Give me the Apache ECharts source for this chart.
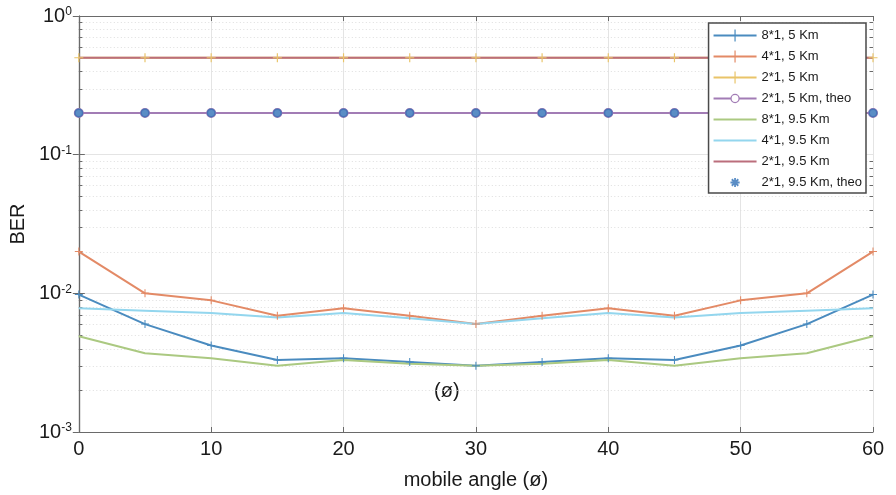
<!DOCTYPE html>
<html>
<head>
<meta charset="utf-8">
<script src="https://cdn.jsdelivr.net/npm/echarts@6/dist/echarts.min.js"></script>
<style>
html,body{margin:0;padding:0;background:#fff;}
#chart{width:896px;height:495px;}
</style>
</head>
<body>
<div id="chart"></div>
<script>
// ---- data ----
const angles = [0, 5, 10, 15, 20, 25, 30, 35, 40, 45, 50, 55, 60];
const seriesNames = ['8*1, 5 Km', '4*1, 5 Km', '2*1, 5 Km', '2*1, 5 Km, theo',
                     '8*1, 9.5 Km', '4*1, 9.5 Km', '2*1, 9.5 Km', '2*1, 9.5 Km, theo'];
const ber8x1_5 = [0.0098, 0.0060, 0.0042, 0.0033, 0.0034, 0.0032, 0.0030, 0.0032, 0.0034, 0.0033, 0.0042, 0.0060, 0.0098];
const ber4x1_5 = [0.0200, 0.0100, 0.0089, 0.0069, 0.0078, 0.0069, 0.0060, 0.0069, 0.0078, 0.0069, 0.0089, 0.0100, 0.0200];
const ber2x1_5 = [0.5, 0.5, 0.5, 0.5, 0.5, 0.5, 0.5, 0.5, 0.5, 0.5, 0.5, 0.5, 0.5];
const ber2x1_5theo = [0.2, 0.2, 0.2, 0.2, 0.2, 0.2, 0.2, 0.2, 0.2, 0.2, 0.2, 0.2, 0.2];
const ber8x1_95 = [0.0049, 0.0037, 0.0034, 0.0030, 0.0033, 0.0031, 0.0030, 0.0031, 0.0033, 0.0030, 0.0034, 0.0037, 0.0049];
const ber4x1_95 = [0.0078, 0.0075, 0.0072, 0.0067, 0.0072, 0.0066, 0.0060, 0.0066, 0.0072, 0.0067, 0.0072, 0.0075, 0.0078];
const ber2x1_95 = [0.5, 0.5, 0.5, 0.5, 0.5, 0.5, 0.5, 0.5, 0.5, 0.5, 0.5, 0.5, 0.5];
const ber2x1_95theo = [0.2, 0.2, 0.2, 0.2, 0.2, 0.2, 0.2, 0.2, 0.2, 0.2, 0.2, 0.2, 0.2];
const xTicks = [0, 10, 20, 30, 40, 50, 60];
const yDecades = [0.001, 0.01, 0.1, 1];
const minorMultipliers = [2, 3, 4, 5, 6, 7, 8, 9];

// ---- style ----
const FONT = 'Liberation Sans, Arial, sans-serif';
const colors = ['#4a8bbf', '#e38a66', '#e9c469', '#a27cb5', '#abc981', '#93d6ee', '#bb6e7c', '#3170b6'];
const AX = '#6a6a6a';

function pairs(ys) { return angles.map((a, i) => [a, ys[i]]); }
const minorVals = [];
for (let d = 0; d < yDecades.length - 1; d++) {
  minorMultipliers.forEach(m => minorVals.push(+(yDecades[d] * m).toPrecision(3)));
}

const plusSym = 'path://M-0.13,-1H0.13V1H-0.13Z M-1,-0.13H1V0.13H-1Z';
// legend icons (43 x 14 box)
const iconLine = 'path://M0,6H43V8H0Z';
const iconPlus = 'path://M0,6H43V8H0Z M20.9,1H22.1V13H20.9Z';
const iconCircle = 'path://M0,6H17V8H0Z M26,6H43V8H26Z ' +
  'M21.5,2.3A4.7,4.7 0 1,1 21.5,11.7A4.7,4.7 0 1,1 21.5,2.3Z ' +
  'M21.5,3.6A3.4,3.4 0 1,0 21.5,10.4A3.4,3.4 0 1,0 21.5,3.6Z';
function starIcon() {
  const cx = 21.5, cy = 7, r = 4.6, t = 0.9;
  let p = 'path://M0,7h0.01v0.01h-0.01Z M42.99,7h0.01v0.01h-0.01Z ';
  [0, 45, 90, 135].forEach(deg => {
    const a = deg * Math.PI / 180, dx = Math.cos(a), dy = Math.sin(a);
    const nx = -dy * t, ny = dx * t;
    const x1 = cx - dx * r, y1 = cy - dy * r, x2 = cx + dx * r, y2 = cy + dy * r;
    p += 'M' + (x1 + nx).toFixed(2) + ',' + (y1 + ny).toFixed(2) +
         'L' + (x2 + nx).toFixed(2) + ',' + (y2 + ny).toFixed(2) +
         'L' + (x2 - nx).toFixed(2) + ',' + (y2 - ny).toFixed(2) +
         'L' + (x1 - nx).toFixed(2) + ',' + (y1 - ny).toFixed(2) + 'Z ';
  });
  return p;
}
const legendIcons = [iconPlus, iconPlus, iconPlus, iconCircle, iconLine, iconLine, iconLine, starIcon()];

function lineSeries(idx, ys, symbol, symbolSize, width) {
  return {
    name: seriesNames[idx], type: 'line', data: pairs(ys),
    symbol: symbol, symbolSize: symbolSize, showSymbol: symbol !== 'none',
    color: colors[idx],
    lineStyle: { color: colors[idx], width: width },
    itemStyle: { color: colors[idx] },
    emphasis: { disabled: true }, animation: false, z: 2
  };
}

const chart = echarts.init(document.getElementById('chart'), null, { renderer: 'canvas' });
const supLabel = v => {
  const e = Math.round(Math.log10(v));
  return '{b|10}{s|' + e + '}';
};

const option = {
  animation: false,
  backgroundColor: '#fff',
  textStyle: { fontFamily: FONT },
  grid: { left: 77, right: 23, top: 16, bottom: 62, show: false },
  legend: {
    orient: 'vertical', right: 30, top: 23, z: 20,
    itemWidth: 43, itemHeight: 14, itemGap: 8,
    padding: [6, 4, 4, 5],
    borderColor: '#4a4a4a', borderWidth: 1.5, backgroundColor: '#fff',
    textStyle: { fontFamily: FONT, fontSize: 13, color: '#1a1a1a' },
    data: seriesNames.map((n, i) => ({ name: n, icon: legendIcons[i] })),
    selectedMode: false
  },
  xAxis: [{
    type: 'value', min: 0, max: 60, interval: 10,
    name: 'mobile angle (ø)', nameLocation: 'middle', nameGap: 38,
    nameTextStyle: { fontFamily: FONT, fontSize: 20, color: '#1a1a1a' },
    axisLine: { show: true, lineStyle: { color: AX, width: 1.2 } },
    axisTick: { show: true, inside: true, length: 5, lineStyle: { color: AX } },
    axisLabel: { fontFamily: FONT, fontSize: 20, color: '#1a1a1a', margin: 7,
                 formatter: v => xTicks.indexOf(v) >= 0 ? String(v) : '' },
    splitLine: { show: true, lineStyle: { color: '#e4e4e4', width: 1 } }
  }, {
    type: 'value', min: 0, max: 60, interval: 10, position: 'top',
    axisLine: { show: true, lineStyle: { color: AX, width: 1.2 } },
    axisTick: { show: true, inside: true, length: 5, lineStyle: { color: AX } },
    axisLabel: { show: false }, splitLine: { show: false }
  }],
  yAxis: [{
    type: 'log', logBase: 10, min: yDecades[0], max: yDecades[yDecades.length - 1],
    name: 'BER', nameLocation: 'middle', nameGap: 45, nameRotate: 90,
    nameTextStyle: { fontFamily: FONT, fontSize: 20, color: '#1a1a1a' },
    axisLine: { show: true, lineStyle: { color: AX, width: 1.2 } },
    axisTick: { show: true, inside: true, length: 6, lineStyle: { color: AX } },
    axisLabel: {
      margin: 7, color: '#1a1a1a', formatter: supLabel,
      rich: {
        b: { fontFamily: FONT, fontSize: 20, color: '#1a1a1a' },
        s: { fontFamily: FONT, fontSize: 12, color: '#1a1a1a', verticalAlign: 'top' }
      }
    },
    splitLine: { show: true, lineStyle: { color: '#e4e4e4', width: 1 } }
  }, {
    type: 'log', logBase: 10, min: yDecades[0], max: yDecades[yDecades.length - 1], position: 'right',
    axisLine: { show: true, lineStyle: { color: AX, width: 1.2 } },
    axisTick: { show: true, inside: true, length: 6, lineStyle: { color: AX } },
    axisLabel: { show: false }, splitLine: { show: false }
  }],
  graphic: [{
    type: 'text', left: 434, top: 381,
    style: { text: '(ø)', fontFamily: FONT, fontSize: 20, fill: '#1a1a1a' }
  }],
  series: [
    {
      name: '_minor', type: 'custom', silent: true, z: 1,
      data: minorVals.map(v => [0, v]),
      renderItem: function (params, api) {
        const p = api.coord([0, api.value(1)]);
        const cs = params.coordSys;
        const y = Math.round(p[1]) + 0.5;
        return {
          type: 'group', children: [
            { type: 'line', shape: { x1: cs.x, y1: y, x2: cs.x + cs.width, y2: y },
              style: { stroke: '#dedede', lineWidth: 1, lineDash: [1, 2.5] } },
            { type: 'line', shape: { x1: cs.x, y1: y, x2: cs.x + 3.5, y2: y },
              style: { stroke: AX, lineWidth: 1 } },
            { type: 'line', shape: { x1: cs.x + cs.width - 3.5, y1: y, x2: cs.x + cs.width, y2: y },
              style: { stroke: AX, lineWidth: 1 } }
          ]
        };
      }
    },
    lineSeries(0, ber8x1_5, plusSym, 8, 2),
    lineSeries(1, ber4x1_5, plusSym, 8, 2),
    lineSeries(2, ber2x1_5, plusSym, 9, 2),
    lineSeries(3, ber2x1_5theo, 'emptyCircle', 8, 2),
    lineSeries(4, ber8x1_95, 'none', 0, 2),
    lineSeries(5, ber4x1_95, 'none', 0, 2),
    lineSeries(6, ber2x1_95, 'none', 0, 2.2),
    {
      name: seriesNames[7], type: 'scatter', data: pairs(ber2x1_95theo),
      symbol: 'circle', symbolSize: 9, color: colors[7],
      itemStyle: { color: colors[7] }, emphasis: { disabled: true }, z: 2
    }
  ]
};
chart.setOption(option);
</script>
</body>
</html>
